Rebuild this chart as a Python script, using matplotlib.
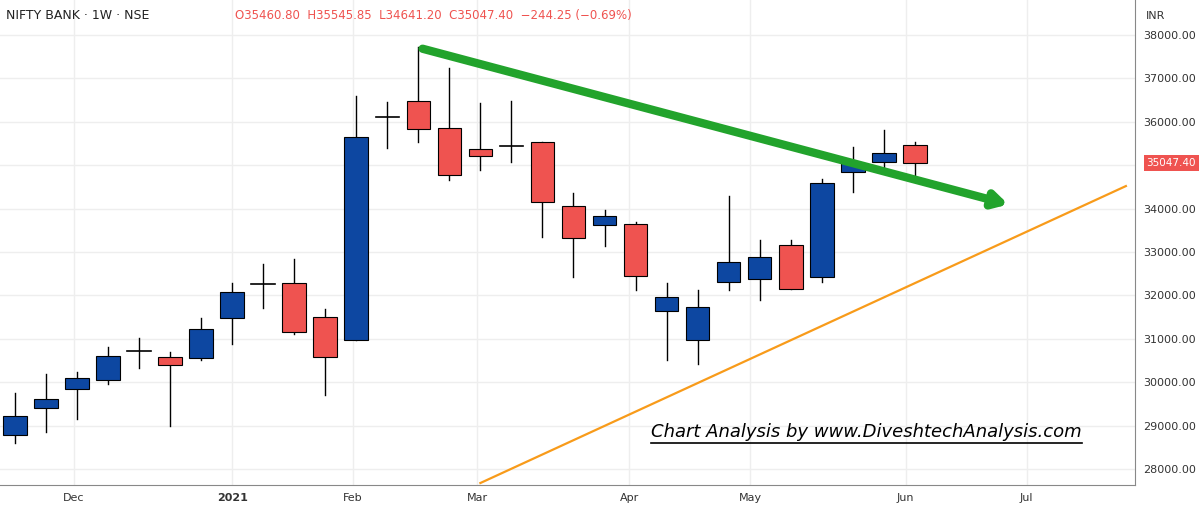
import matplotlib.pyplot as plt
from matplotlib.patches import Rectangle

# weekly candles: open, high, low, close
opens = [28780, 29410, 29850, 30050, 30700, 30580, 30570, 31480, 32250, 32290,
         31500, 30970, 36080, 36480, 35860, 35370, 35450, 35540, 34060, 33620,
         33640, 31640, 30970, 32310, 32380, 33160, 32420, 34840, 35070, 35460.80]
highs = [29750, 30190, 30235, 30810, 31020, 30700, 31480, 32290, 32720, 32840,
         31690, 36600, 36460, 37720, 37240, 36430, 36480, 35540, 34360, 33970,
         33690, 32290, 32120, 34290, 33280, 33280, 34680, 35420, 35810, 35545.85]
lows = [28600, 28850, 29150, 29960, 30330, 28990, 30510, 30880, 31710, 31110,
        29700, 30970, 35400, 35530, 34660, 34890, 35070, 33350, 32420, 33140,
        32120, 30510, 30420, 32120, 31890, 32150, 32310, 34380, 34890, 34641.20]
closes = [29220, 29610, 30100, 30600, 30730, 30400, 31220, 32080, 32270, 31150,
          30580, 35650, 36100, 35830, 34780, 35210, 35440, 34160, 33320, 33830,
          32450, 31960, 31730, 32770, 32880, 32150, 34590, 35050, 35280, 35047.40]
month_labels = ["Dec", "2021", "Feb", "Mar", "Apr", "May", "Jun", "Jul"]
month_pos = [1.9, 7.0, 10.9, 14.9, 19.8, 23.7, 28.7, 32.6]
price_ticks = list(range(28000, 38001, 1000))
trend_down = ([13.05, 32.1], [37700, 34080])
trend_up = ([15.0, 35.8], [27680, 34520])

BLUE, RED = "#0d47a1", "#ef5350"
fig = plt.figure(figsize=(12, 5.08), dpi=100)
ax = fig.add_axes([0, 0.045, 0.946, 0.955])
ax.set_xlim(-0.48, 36.1)
ax.set_ylim(27631, 38806)

for i, (o, h, l, c) in enumerate(zip(opens, highs, lows, closes)):
    if abs(c - o) < 60:
        ax.plot([i, i], [l, h], color="black", lw=1, zorder=3)
        ax.plot([i - 0.38, i + 0.38], [c, c], color="black", lw=1.2, zorder=3)
        continue
    col = BLUE if c > o else RED
    ax.plot([i, i], [l, h], color="black", lw=1, zorder=2)
    ax.add_patch(Rectangle((i - 0.38, min(o, c)), 0.76, abs(c - o),
                           facecolor=col, edgecolor="black", lw=0.8, zorder=3))

ax.plot(*trend_up, color="#f89b1a", lw=1.6, zorder=4)
x0, x1 = trend_down[0]
y0, y1 = trend_down[1]
ax.annotate("", xy=(x1, y1), xytext=(x0, y0),
            arrowprops=dict(arrowstyle="-|>,head_length=0.8,head_width=0.45",
                            color="#22a32c", lw=6), zorder=5)

ax.set_yticks(price_ticks)
ax.set_xticks(month_pos)
ax.grid(color="#eeeeee", lw=1)
ax.yaxis.tick_right()
ax.set_yticklabels(["" if v == 35000 else f"{v}.00" for v in price_ticks],
                   fontsize=8, color="#333333")
ax.set_xticklabels(month_labels, fontsize=8, color="#333333")
for lab in ax.get_xticklabels():
    if lab.get_text() == "2021":
        lab.set_fontweight("bold")
ax.tick_params(length=0, pad=6)
for s in ["top", "left"]:
    ax.spines[s].set_visible(False)
ax.spines["right"].set_color("#888888")
ax.spines["bottom"].set_color("#888888")

ax.text(1.01, closes[-1], f"{closes[-1]:.2f}", transform=ax.get_yaxis_transform(),
        fontsize=7.5, color="white", va="center", ha="left",
        bbox=dict(facecolor=RED, edgecolor="none", pad=2))

fig.text(0.005, 0.962, "NIFTY BANK · 1W · NSE", fontsize=9, color="#222222")
fig.text(0.196, 0.962, "O35460.80  H35545.85  L34641.20  C35047.40  −244.25 (−0.69%)",
         fontsize=8.5, color=RED)
fig.text(0.955, 0.962, "INR", fontsize=8, color="#333333")
ax.text(20.5, 28750, "Chart Analysis by www.DiveshtechAnalysis.com", fontsize=13,
        style="italic", color="black")
ax.plot([20.5, 34.4], [28600, 28600], color="black", lw=1.2)

fig.savefig("out.png", dpi=100)
